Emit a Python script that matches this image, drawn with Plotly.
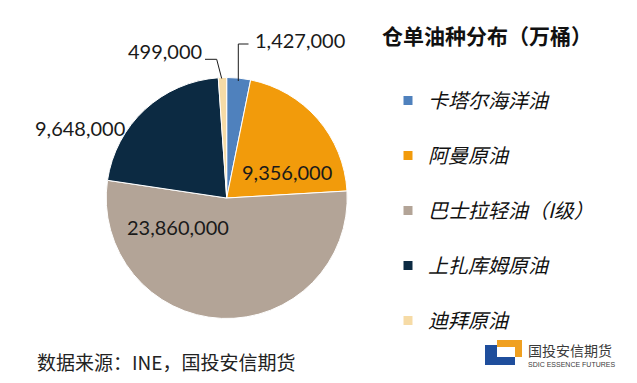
import plotly.graph_objects as go

W, H = 637, 383

# ---- data ----
categories = ["卡塔尔海洋油", "阿曼原油", "巴士拉轻油（I级）", "上扎库姆原油", "迪拜原油"]
values = [1427000, 9356000, 23860000, 9648000, 499000]
colors = ["#4F81BD", "#F29B0B", "#B3A497", "#0C2A42", "#F6DBA6"]
title_text = "仓单油种分布（万桶）"
source_text = "数据来源：INE，国投安信期货"

def px(x):
    return x / W

def py(y):
    return 1 - y / H

# pie geometry (pixels)
cx, cy, r = 226.7, 198.0, 120.5

fig = go.Figure()
fig.add_trace(go.Pie(
    labels=categories, values=values, sort=False, direction="clockwise",
    rotation=0, marker=dict(colors=colors, line=dict(color="white", width=1)),
    textinfo="none", showlegend=False, hoverinfo="label+value",
    domain=dict(x=[px(cx - r), px(cx + r)], y=[py(cy + r), py(cy - r)]),
))

# legend entries (one group each so spacing can be controlled)
for cat, col in zip(categories, colors):
    fig.add_trace(go.Scatter(
        x=[None], y=[None], mode="markers", name=cat, legendgroup=cat,
        marker=dict(symbol="square", size=9, color=col),
    ))

# value labels
fmt = [f"{v:,}" for v in values]
label_pos = [  # (x, y, xanchor)
    (253, 40, "left"),
    (286.7, 171.7, "center"),
    (178, 226.7, "center"),
    (127, 128, "right"),
    (204, 51, "right"),
]
annotations = []
for t, (x, y, xa) in zip(fmt, label_pos):
    annotations.append(dict(
        x=px(x), y=py(y), xref="paper", yref="paper", text=t, showarrow=False,
        xanchor=xa, yanchor="middle",
        font=dict(family="Lato, Noto Sans", size=20, color="#1a1a1a"),
    ))

annotations.append(dict(
    x=px(380), y=py(35), xref="paper", yref="paper", text=title_text,
    showarrow=False, xanchor="left", yanchor="middle",
    font=dict(family="Noto Sans CJK SC", size=21, color="#111111", weight=700),
))
annotations.append(dict(
    x=px(35), y=py(361.5), xref="paper", yref="paper", text=source_text,
    showarrow=False, xanchor="left", yanchor="middle",
    font=dict(family="Noto Sans CJK SC", size=19, color="#222222"),
))
annotations.append(dict(
    x=px(526), y=py(349.5), xref="paper", yref="paper", text="国投安信期货",
    showarrow=False, xanchor="left", yanchor="middle",
    font=dict(family="Noto Sans CJK SC", size=14, color="#3a3a3a"),
))
annotations.append(dict(
    x=px(526), y=py(364.5), xref="paper", yref="paper", text="SDIC ESSENCE FUTURES",
    showarrow=False, xanchor="left", yanchor="middle",
    font=dict(family="Liberation Sans Narrow, Liberation Sans", size=7, color="#3a3a3a"),
))

shapes = []
# leader lines
def seg(x0, y0, x1, y1):
    shapes.append(dict(type="line", xref="paper", yref="paper",
                       x0=px(x0), y0=py(y0), x1=px(x1), y1=py(y1),
                       line=dict(color="#1a1a1a", width=1)))
seg(238.3, 81, 238.3, 44)
seg(238.3, 44, 248.5, 44)
seg(205, 59.3, 216.7, 59.3)
seg(216.7, 59.3, 221.7, 78.5)

# logo
def rect(x0, y0, x1, y1, c):
    shapes.append(dict(type="rect", xref="paper", yref="paper",
                       x0=px(x0), y0=py(y1), x1=px(x1), y1=py(y0),
                       fillcolor=c, line=dict(width=0)))
rect(485, 345, 497, 365, "#1F4E9C")
rect(485, 357, 515, 365, "#1F4E9C")
rect(497, 340, 522, 347, "#F0A020")
rect(515, 340, 522, 357, "#F0A020")

fig.update_layout(
    width=W, height=H, margin=dict(l=0, r=0, t=0, b=0),
    paper_bgcolor="white", plot_bgcolor="white",
    xaxis=dict(visible=False), yaxis=dict(visible=False),
    showlegend=True,
    legend=dict(
        x=px(388), y=py(81), xanchor="left", yanchor="top",
        font=dict(family="Noto Sans CJK SC", size=20, color="#111111", style="italic"),
        tracegroupgap=26, itemsizing="trace", bgcolor="rgba(0,0,0,0)",
    ),
    annotations=annotations, shapes=shapes,
)

fig.write_html("out.html")
